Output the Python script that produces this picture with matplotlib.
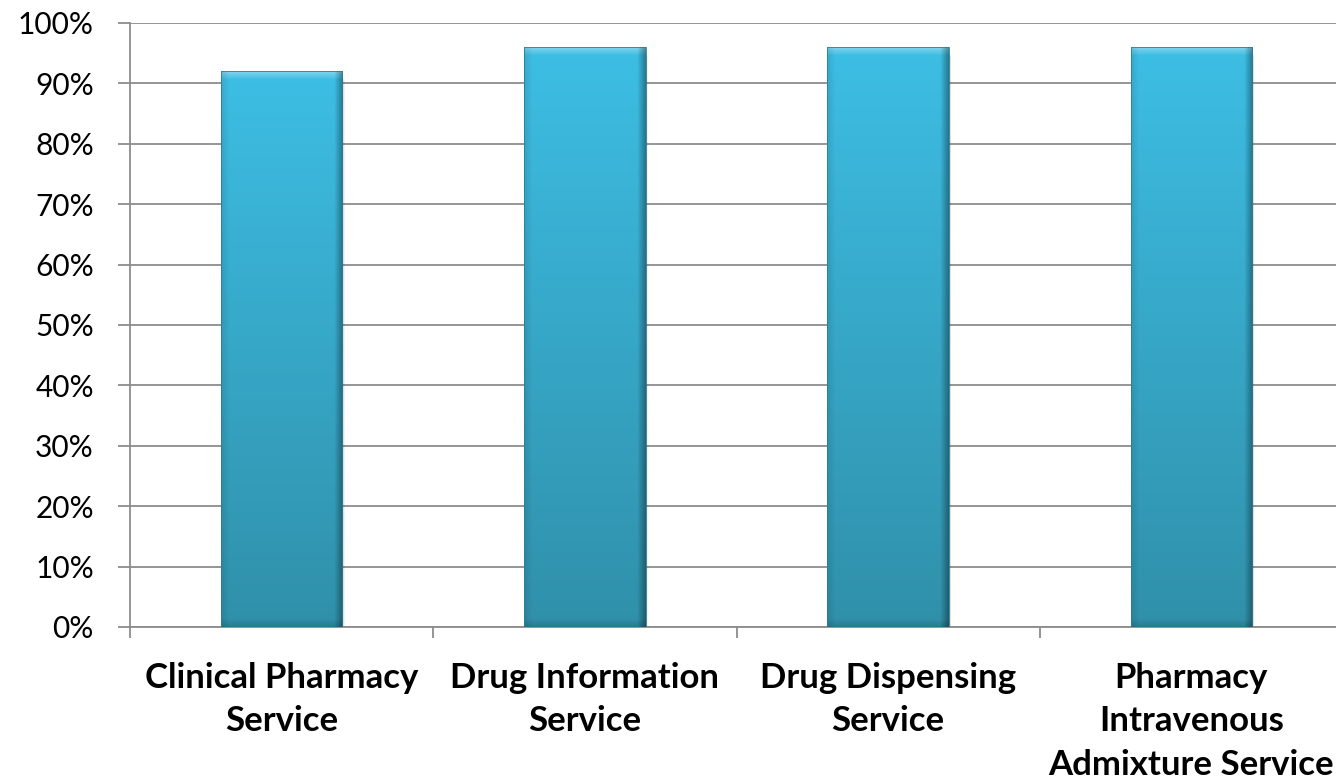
import numpy as np
import matplotlib.pyplot as plt
from matplotlib.patches import Rectangle
from matplotlib.ticker import FixedLocator, PercentFormatter

# chart data
categories = ["Clinical Pharmacy\nService", "Drug Information\nService",
              "Drug Dispensing\nService", "Pharmacy\nIntravenous\nAdmixture Service"]
values = [92, 96, 96, 96]
y_ticks = list(range(0, 101, 10))

plt.rcParams['font.family'] = ['Lato', 'DejaVu Sans']

grid_color = "#8c8c8c"
top_color = np.array([0x3d, 0xbe, 0xe4]) / 255
bottom_color = np.array([0x30, 0x90, 0xaa]) / 255


def bar_texture(nx=120, ny=600, bevel_px=8, bar_px_h=560):
    '''vertical gradient with a soft bevel on the edges, like the office 3d bars'''
    t = np.linspace(0, 1, ny)[:, None]
    img = top_color * (1 - t[..., None]) + bottom_color * t[..., None]
    img = np.repeat(img, nx, axis=1)
    xs = np.arange(nx)
    ys = np.arange(ny)
    left = np.clip(1 - xs / bevel_px, 0, 1)[None, :, None]
    right = np.clip(1 - (nx - 1 - xs) / bevel_px, 0, 1)[None, :, None]
    bev_y = bevel_px * ny / bar_px_h
    top = np.clip(1 - ys / bev_y, 0, 1)[:, None, None]
    bottom = np.clip(1 - (ny - 1 - ys) / bev_y, 0, 1)[:, None, None]
    img = img + 0.35 * top * (1 - img)          # light top edge
    img = img * (1 - 0.35 * right)              # dark right edge
    img = img * (1 - 0.10 * left)
    img = img * (1 - 0.15 * bottom)
    return np.clip(img, 0, 1)


fig = plt.figure(figsize=(13.36, 7.81), dpi=100)
ax = fig.add_axes([130 / 1336, 154 / 781, 1213 / 1336, 604 / 781])

x = np.arange(len(categories))
bars = ax.bar(x, values, width=0.40, color="none", edgecolor="none", zorder=3)

ax.set_xlim(-0.5, len(categories) - 0.5)
ax.set_ylim(0, 100)

for rect, val in zip(bars, values):
    x0, w, h = rect.get_x(), rect.get_width(), rect.get_height()
    # soft shadow under the bar
    for k, a in enumerate([0.10, 0.08, 0.05]):
        sh = Rectangle((x0 + 0.004 + k * 0.002, -0.9 - k * 0.3), w, h, facecolor="black",
                       alpha=a, edgecolor="none", zorder=2)
        ax.add_patch(sh)
    img = bar_texture(bar_px_h=h * 6.04)
    im = ax.imshow(img, extent=(x0, x0 + w, 0, h), aspect="auto", zorder=4,
                   interpolation="bilinear")
    im.set_clip_path(rect)
    ax.add_patch(Rectangle((x0, 0), w, h, facecolor="none", edgecolor="#2b7f96",
                           linewidth=0.6, zorder=5))

ax.set_yticks(y_ticks)
ax.yaxis.set_major_formatter(PercentFormatter(decimals=0))
ax.set_xticks(x)
ax.set_xticklabels(categories, fontweight="bold", fontsize=25, linespacing=1.45)
ax.xaxis.set_minor_locator(FixedLocator(np.arange(-0.5, len(categories), 1)))

ax.grid(axis="y", color=grid_color, linewidth=1.3, zorder=0)
ax.set_axisbelow(True)
for side in ["top", "right"]:
    ax.spines[side].set_visible(False)
for side in ["left", "bottom"]:
    ax.spines[side].set_color(grid_color)
    ax.spines[side].set_linewidth(1.3)

ax.tick_params(axis="y", length=9, width=1.3, color=grid_color, labelsize=21.5, pad=17)
ax.tick_params(axis="x", which="major", length=0, pad=25)
ax.tick_params(axis="x", which="minor", length=8, width=1.3, color=grid_color)

fig.savefig("out.png", dpi=100)
